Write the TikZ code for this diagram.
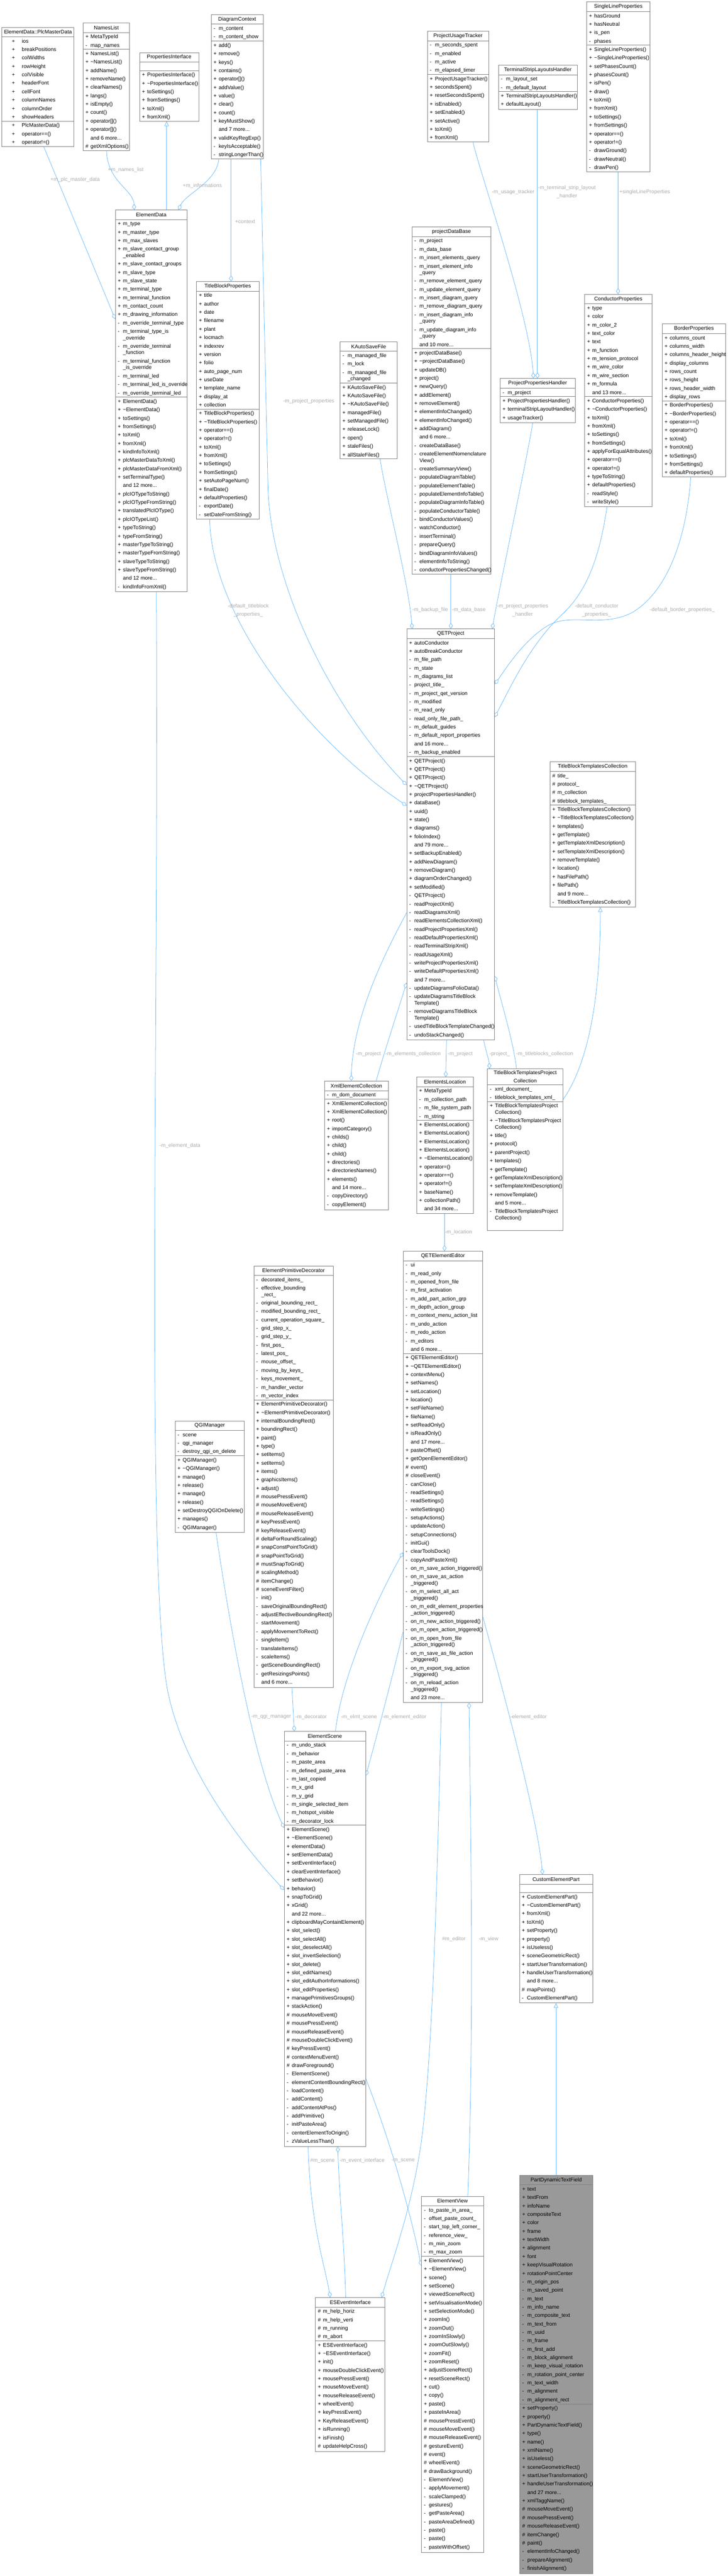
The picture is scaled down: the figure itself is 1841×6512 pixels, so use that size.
\documentclass[tikz,border=0pt]{standalone}
\usepackage{fontspec}
\setmainfont{Liberation Sans}
\usetikzlibrary{arrows.meta,fit}
\definecolor{eblue}{RGB}{99,184,255}
\definecolor{bgray}{RGB}{128,128,128}
\definecolor{lgray}{RGB}{170,170,170}
\definecolor{pfill}{RGB}{153,153,153}
\newcommand\cfnt{\fontsize{13.3}{16}\selectfont}
\newcommand\lfnt{\fontsize{13.3}{21}\selectfont}
\pgfdeclarelayer{bg}
\pgfsetlayers{bg,main}
\tikzset{
  cbox/.style={draw=bgray,line width=1pt,fill=white,inner sep=0pt},
  cline/.style={draw=bgray,line width=1pt},
  ctxt/.style={font=\cfnt,inner sep=0pt,anchor=base west},
  ctitle/.style={font=\lfnt,inner sep=0pt,align=center},
  elab/.style={font=\lfnt,text=lgray,inner sep=0pt,align=center},
  cedge/.style={draw=eblue,line width=1pt},
  agg/.style={cedge,-{Diamond[open,length=15pt,width=10pt,line width=1pt]}},
  inh/.style={cedge,-{Triangle[open,length=12pt,width=11pt,line width=1pt]}},
}
\def\soff{6}\def\toff{19}
\newcommand\csep{\draw[cline] (\cxL,\ry) -- (\cxR,\ry);}
\newcommand\esec{\pgfmathsetmacro\tmp{\ry+21.3}\xdef\ry{\tmp}}
\newcommand\cls[8][]{%
  \xdef\cxL{#3}\xdef\cxR{#4}%
  \node[cbox,#1,fit={(#3,#5) (#4,#6)}] (#2) {};
  \pgfmathsetmacro\tmp{#5+#7}\xdef\ry{\tmp}%
  \node[ctitle] at ({(#3+#4)/2},{#5+#7/2}) {#8};
  \csep}
\newcommand\rws[1]{%
  \foreach \xs/\xt in {#1}{%
    \if\xs c%
      \pgfmathsetmacro\yb{\ry+10.2}%
      \node[ctxt] at (\cxL+\toff,\yb) {\xt};%
      \pgfmathsetmacro\tmp{\ry+16.3}\xdef\ry{\tmp}%
    \else
      \pgfmathsetmacro\yb{\ry+15.35}%
      \if\xs n\else\node[ctxt] at (\cxL+\soff,\yb) {\xs};\fi
      \node[ctxt] at (\cxL+\toff,\yb) {\xt};%
      \pgfmathsetmacro\tmp{\ry+21.3}\xdef\ry{\tmp}%
    \fi}}
\begin{document}
\catcode`\_=12 \catcode`\~=12 \catcode`\#=12
\begin{tikzpicture}[x=1pt,y=-1pt]
\useasboundingbox (0,0) rectangle (1841,6512);
% ---------- top row
\def\soff{25}\def\toff{50}
\cls{plc}{5}{187}{69}{370}{24}{ElementData::PlcMasterData}
\rws{+/ios,+/breakPositions,+/colWidths,+/rowHeight,+/colVisible,+/headerFont,+/cellFont,+/columnNames,+/columnOrder,+/showHeaders}\csep
\rws{+/PlcMasterData(),+/operator==(),+/operator!=()}
\def\soff{6}\def\toff{19}
\cls{names}{210}{328}{58}{381}{24}{NamesList}
\rws{+/MetaTypeId,-/map_names}\csep
\rws{+/NamesList(),+/~NamesList(),+/addName(),+/removeName(),+/clearNames(),+/langs(),+/isEmpty(),+/count(),+/operator[](),+/operator[](),n/and 6 more{...},#/getXmlOptions()}
\cls{props}{353}{503}{133}{306}{24}{PropertiesInterface}
\esec\csep
\rws{+/PropertiesInterface(),+/~PropertiesInterface(),+/toSettings(),+/fromSettings(),+/toXml(),+/fromXml()}
\cls{dctx}{534}{666}{37}{402}{24}{DiagramContext}
\rws{-/m_content,-/m_content_show}\csep
\rws{+/add(),+/remove(),+/keys(),+/contains(),+/operator[](),+/addValue(),+/value(),+/clear(),+/count(),+/keyMustShow(),n/and 7 more{...},+/validKeyRegExp(),-/keyIsAcceptable(),-/stringLongerThan()}
\cls{put}{1081}{1236}{79}{359}{24}{ProjectUsageTracker}
\rws{-/m_seconds_spent,-/m_enabled,-/m_active,-/m_elapsed_timer}\csep
\rws{+/ProjectUsageTracker(),+/secondsSpent(),+/resetSecondsSpent(),+/isEnabled(),+/setEnabled(),+/setActive(),+/toXml(),+/fromXml()}
\cls{tslh}{1261}{1460}{165}{277}{24}{TerminalStripLayoutsHandler}
\rws{-/m_layout_set,-/m_default_layout}\csep
\rws{+/TerminalStripLayoutsHandler(),+/defaultLayout()}
\cls{slp}{1484}{1644}{5}{434}{24}{SingleLineProperties}
\rws{+/hasGround,+/hasNeutral,+/is_pen,-/phases}\csep
\rws{+/SingleLineProperties(),+/~SingleLineProperties(),+/setPhasesCount(),+/phasesCount(),+/isPen(),+/draw(),+/toXml(),+/fromXml(),+/toSettings(),+/fromSettings(),+/operator==(),+/operator!=(),-/drawGround(),-/drawNeutral(),-/drawPen()}
% ---------- second tier
\cls{edata}{292}{473}{531}{1496}{24}{ElementData}
\rws{+/m_type,+/m_master_type,+/m_max_slaves,+/m_slave_contact_group,c/_enabled,+/m_slave_contact_groups,+/m_slave_type,+/m_slave_state,+/m_terminal_type,+/m_terminal_function,+/m_contact_count,+/m_drawing_information,-/m_override_terminal_type,-/m_terminal_type_is,c/_override,-/m_override_terminal,c/_function,-/m_terminal_function,c/_is_override,-/m_terminal_led,-/m_terminal_led_is_override,-/m_override_terminal_led}\csep
\rws{+/ElementData(),+/~ElementData(),+/toSettings(),+/fromSettings(),+/toXml(),+/fromXml(),+/kindInfoToXml(),+/plcMasterDataToXml(),+/plcMasterDataFromXml(),+/setTerminalType(),n/and 12 more{...},+/plcIOTypeToString(),+/plcIOTypeFromString(),+/translatedPlcIOType(),+/plcIOTypeList(),+/typeToString(),+/typeFromString(),+/masterTypeToString(),+/masterTypeFromString(),+/slaveTypeToString(),+/slaveTypeFromString(),n/and 12 more{...},-/kindInfoFromXml()}
\cls{tbp}{497}{655}{712}{1312}{24}{TitleBlockProperties}
\rws{+/title,+/author,+/date,+/filename,+/plant,+/locmach,+/indexrev,+/version,+/folio,+/auto_page_num,+/useDate,+/template_name,+/display_at,+/collection}\csep
\rws{+/TitleBlockProperties(),+/~TitleBlockProperties(),+/operator==(),+/operator!=(),+/toXml(),+/fromXml(),+/toSettings(),+/fromSettings(),+/setAutoPageNum(),+/finalDate(),+/defaultProperties(),-/exportDate(),-/setDateFromString()}
\cls{kasf}{860}{1005}{864}{1160}{24}{KAutoSaveFile}
\rws{-/m_managed_file,-/m_lock,-/m_managed_file,c/_changed}\csep
\rws{+/KAutoSaveFile(),+/KAutoSaveFile(),+/~KAutoSaveFile(),+/managedFile(),+/setManagedFile(),+/releaseLock(),+/open(),+/staleFiles(),+/allStaleFiles()}
\cls{pdb}{1042}{1242}{574}{1452}{24}{projectDataBase}
\rws{-/m_project,-/m_data_base,-/m_insert_elements_query,-/m_insert_element_info,c/_query,-/m_remove_element_query,-/m_update_element_query,-/m_insert_diagram_query,-/m_remove_diagram_query,-/m_insert_diagram_info,c/_query,-/m_update_diagram_info,c/_query,n/and 10 more{...}}\csep
\rws{+/projectDataBase(),+/~projectDataBase(),+/updateDB(),+/project(),+/newQuery(),+/addElement(),+/removeElement(),+/elementInfoChanged(),+/elementInfoChanged(),+/addDiagram(),n/and 6 more{...},-/createDataBase(),-/createElementNomenclature,c/View(),-/createSummaryView(),-/populateDiagramTable(),-/populateElementTable(),-/populateElementInfoTable(),-/populateDiagramInfoTable(),-/populateConductorTable(),-/bindConductorValues(),-/watchConductor(),-/insertTerminal(),-/prepareQuery(),-/bindDiagramInfoValues(),-/elementInfoToString(),-/conductorPropertiesChanged()}
\cls{pph}{1265}{1455}{957}{1069}{24}{ProjectPropertiesHandler}
\rws{-/m_project}\csep
\rws{+/ProjectPropertiesHandler(),+/terminalStripLayoutHandler(),+/usageTracker()}
\cls{cp}{1479}{1649}{744}{1281}{24}{ConductorProperties}
\rws{+/type,+/color,+/m_color_2,+/text_color,+/text,+/m_function,+/m_tension_protocol,+/m_wire_color,+/m_wire_section,+/m_formula,n/and 13 more{...}}\csep
\rws{+/ConductorProperties(),+/~ConductorProperties(),+/toXml(),+/fromXml(),+/toSettings(),+/fromSettings(),+/applyForEqualAttributes(),+/operator==(),+/operator!=(),+/typeToString(),+/defaultProperties(),-/readStyle(),-/writeStyle()}
\cls{bp}{1675}{1836}{819}{1205}{24}{BorderProperties}
\rws{+/columns_count,+/columns_width,+/columns_header_height,+/display_columns,+/rows_count,+/rows_height,+/rows_header_width,+/display_rows}\csep
\rws{+/BorderProperties(),+/~BorderProperties(),+/operator==(),+/operator!=(),+/toXml(),+/fromXml(),+/toSettings(),+/fromSettings(),+/defaultProperties()}
% ---------- project tier
\cls{qetp}{1029}{1251}{1590}{2629}{24}{QETProject}
\rws{+/autoConductor,+/autoBreakConductor,-/m_file_path,-/m_state,-/m_diagrams_list,-/project_title_,-/m_project_qet_version,-/m_modified,-/m_read_only,-/read_only_file_path_,-/m_default_guides,-/m_default_report_properties,n/and 16 more{...},-/m_backup_enabled}\csep
\rws{+/QETProject(),+/QETProject(),+/QETProject(),+/~QETProject(),+/projectPropertiesHandler(),+/dataBase(),+/uuid(),+/state(),+/diagrams(),+/folioIndex(),n/and 79 more{...},+/setBackupEnabled(),+/addNewDiagram(),+/removeDiagram(),+/diagramOrderChanged(),+/setModified(),-/QETProject(),-/readProjectXml(),-/readDiagramsXml(),-/readElementsCollectionXml(),-/readProjectPropertiesXml(),-/readDefaultPropertiesXml(),-/readTerminalStripXml(),-/readUsageXml(),-/writeProjectPropertiesXml(),-/writeDefaultPropertiesXml(),n/and 7 more{...},-/updateDiagramsFolioData(),-/updateDiagramsTitleBlock,c/Template(),-/removeDiagramsTitleBlock,c/Template(),-/usedTitleBlockTemplateChanged(),-/undoStackChanged()}
\cls{tbtc}{1391}{1607}{1926}{2293}{24}{TitleBlockTemplatesCollection}
\rws{#/title_,#/protocol_,#/m_collection,#/titleblock_templates_}\csep
\rws{+/TitleBlockTemplatesCollection(),+/~TitleBlockTemplatesCollection(),+/templates(),+/getTemplate(),+/getTemplateXmlDescription(),+/setTemplateXmlDescription(),+/removeTemplate(),+/location(),+/hasFilePath(),+/filePath(),n/and 9 more{...},-/TitleBlockTemplatesCollection()}
\cls{tbtpc}{1233}{1424}{2702}{3111}{40}{TitleBlockTemplatesProject\\Collection}
\rws{-/xml_document_,-/titleblock_templates_xml_}\csep
\rws{+/TitleBlockTemplatesProject,c/Collection(),+/~TitleBlockTemplatesProject,c/Collection(),+/title(),+/protocol(),+/parentProject(),+/templates(),+/getTemplate(),+/getTemplateXmlDescription(),+/setTemplateXmlDescription(),+/removeTemplate(),n/and 5 more{...},-/TitleBlockTemplatesProject,c/Collection()}
\cls{xec}{821}{982}{2733}{3058}{24}{XmlElementCollection}
\rws{-/m_dom_document}\csep
\rws{+/XmlElementCollection(),+/XmlElementCollection(),+/root(),+/importCategory(),+/childs(),+/child(),+/child(),+/directories(),+/directoriesNames(),+/elements(),n/and 14 more{...},-/copyDirectory(),-/copyElement()}
\cls{eloc}{1054}{1197}{2723}{3068}{24}{ElementsLocation}
\rws{+/MetaTypeId,-/m_collection_path,-/m_file_system_path,-/m_string}\csep
\rws{+/ElementsLocation(),+/ElementsLocation(),+/ElementsLocation(),+/ElementsLocation(),+/~ElementsLocation(),+/operator=(),+/operator==(),+/operator!=(),+/baseName(),+/collectionPath(),n/and 34 more{...}}
% ---------- editor tier
\cls{qee}{1020}{1221}{3163}{4304}{24}{QETElementEditor}
\rws{-/ui,-/m_read_only,-/m_opened_from_file,-/m_first_activation,-/m_add_part_action_grp,-/m_depth_action_group,-/m_context_menu_action_list,-/m_undo_action,-/m_redo_action,-/m_editors,n/and 6 more{...}}\csep
\rws{+/QETElementEditor(),+/~QETElementEditor(),+/contextMenu(),+/setNames(),+/setLocation(),+/location(),+/setFileName(),+/fileName(),+/setReadOnly(),+/isReadOnly(),n/and 17 more{...},+/pasteOffset(),+/getOpenElementEditor(),#/event(),#/closeEvent(),-/canClose(),-/readSettings(),-/readSettings(),-/writeSettings(),-/setupActions(),-/updateAction(),-/setupConnections(),-/initGui(),-/clearToolsDock(),-/copyAndPasteXml(),-/on_m_save_action_triggered(),-/on_m_save_as_action,c/_triggered(),-/on_m_select_all_act,c/_triggered(),-/on_m_edit_element_properties,c/_action_triggered(),-/on_m_new_action_triggered(),-/on_m_open_action_triggered(),-/on_m_open_from_file,c/_action_triggered(),-/on_m_save_as_file_action,c/_triggered(),-/on_m_export_svg_action,c/_triggered(),-/on_m_reload_action,c/_triggered(),n/and 23 more{...}}
\cls{epd}{642}{843}{3200}{4266}{24}{ElementPrimitiveDecorator}
\rws{-/decorated_items_,-/effective_bounding,c/_rect_,-/original_bounding_rect_,-/modified_bounding_rect_,-/current_operation_square_,-/grid_step_x_,-/grid_step_y_,-/first_pos_,-/latest_pos_,-/mouse_offset_,-/moving_by_keys_,-/keys_movement_,-/m_handler_vector,-/m_vector_index}\csep
\rws{+/ElementPrimitiveDecorator(),+/~ElementPrimitiveDecorator(),+/internalBoundingRect(),+/boundingRect(),+/paint(),+/type(),+/setItems(),+/setItems(),+/items(),+/graphicsItems(),+/adjust(),#/mousePressEvent(),#/mouseMoveEvent(),#/mouseReleaseEvent(),#/keyPressEvent(),#/keyReleaseEvent(),#/deltaForRoundScaling(),#/snapConstPointToGrid(),#/snapPointToGrid(),#/mustSnapToGrid(),#/scalingMethod(),#/itemChange(),#/sceneEventFilter(),-/init(),-/saveOriginalBoundingRect(),-/adjustEffectiveBoundingRect(),-/startMovement(),-/applyMovementToRect(),-/singleItem(),-/translateItems(),-/scaleItems(),-/getSceneBoundingRect(),-/getResizingsPoints(),n/and 6 more{...}}
\cls{qgim}{443}{618}{3592}{3874}{24}{QGIManager}
\rws{-/scene,-/qgi_manager,-/destroy_qgi_on_delete}\csep
\rws{+/QGIManager(),+/~QGIManager(),+/manage(),+/release(),+/manage(),+/release(),+/setDestroyQGIOnDelete(),+/manages(),-/QGIManager()}
\cls{escene}{719}{925}{4377}{5426}{24}{ElementScene}
\rws{-/m_undo_stack,-/m_behavior,-/m_paste_area,-/m_defined_paste_area,-/m_last_copied,-/m_x_grid,-/m_y_grid,-/m_single_selected_item,-/m_hotspot_visible,-/m_decorator_lock}\csep
\rws{+/ElementScene(),+/~ElementScene(),+/elementData(),+/setElementData(),+/setEventInterface(),+/clearEventInterface(),+/setBehavior(),+/behavior(),+/snapToGrid(),+/xGrid(),n/and 22 more{...},+/clipboardMayContainElement(),+/slot_select(),+/slot_selectAll(),+/slot_deselectAll(),+/slot_invertSelection(),+/slot_delete(),+/slot_editNames(),+/slot_editAuthorInformations(),+/slot_editProperties(),+/managePrimitivesGroups(),+/stackAction(),#/mouseMoveEvent(),#/mousePressEvent(),#/mouseReleaseEvent(),#/mouseDoubleClickEvent(),#/keyPressEvent(),#/contextMenuEvent(),#/drawForeground(),-/ElementScene(),-/elementContentBoundingRect(),-/loadContent(),-/addContent(),-/addContentAtPos(),-/addPrimitive(),-/initPasteArea(),-/centerElementToOrigin(),-/zValueLessThan()}
\cls{cep}{1314}{1499}{4739}{5063}{24}{CustomElementPart}
\esec\csep
\rws{+/CustomElementPart(),+/~CustomElementPart(),+/fromXml(),+/toXml(),+/setProperty(),+/property(),+/isUseless(),+/sceneGeometricRect(),+/startUserTransformation(),+/handleUserTransformation(),n/and 8 more{...},#/mapPoints(),-/CustomElementPart()}
\cls{esei}{798}{974}{5808}{6197}{24}{ESEventInterface}
\rws{#/m_help_horiz,#/m_help_verti,#/m_running,#/m_abort}\csep
\rws{+/ESEventInterface(),+/~ESEventInterface(),+/init(),+/mouseDoubleClickEvent(),+/mousePressEvent(),+/mouseMoveEvent(),+/mouseReleaseEvent(),+/wheelEvent(),+/keyPressEvent(),+/KeyReleaseEvent(),+/isRunning(),+/isFinish(),#/updateHelpCross()}
\cls{eview}{1066}{1223}{5552}{6452}{24}{ElementView}
\rws{-/to_paste_in_area_,-/offset_paste_count_,-/start_top_left_corner_,-/reference_view_,-/m_min_zoom,-/m_max_zoom}\csep
\rws{+/ElementView(),+/~ElementView(),+/scene(),+/setScene(),+/viewedSceneRect(),+/setVisualisationMode(),+/setSelectionMode(),+/zoomIn(),+/zoomOut(),+/zoomInSlowly(),+/zoomOutSlowly(),+/zoomFit(),+/zoomReset(),+/adjustSceneRect(),+/resetSceneRect(),+/cut(),+/copy(),+/paste(),+/pasteInArea(),#/mousePressEvent(),#/mouseMoveEvent(),#/mouseReleaseEvent(),#/gestureEvent(),#/event(),#/wheelEvent(),#/drawBackground(),-/ElementView(),-/applyMovement(),-/scaleClamped(),-/gestures(),-/getPasteArea(),-/pasteAreaDefined(),-/paste(),-/paste(),-/pasteWithOffset()}
\cls[fill=pfill]{pdtf}{1315}{1499}{5499}{6506}{24}{PartDynamicTextField}
\rws{+/text,+/textFrom,+/infoName,+/compositeText,+/color,+/frame,+/textWidth,+/alignment,+/font,+/keepVisualRotation,+/rotationPointCenter,-/m_origin_pos,-/m_saved_point,-/m_text,-/m_info_name,-/m_composite_text,-/m_text_from,-/m_uuid,-/m_frame,-/m_first_add,-/m_block_alignment,-/m_keep_visual_rotation,-/m_rotation_point_center,-/m_text_width,-/m_alignment,-/m_alignment_rect}\csep
\rws{+/setProperty(),+/property(),+/PartDynamicTextField(),+/type(),+/name(),+/xmlName(),+/isUseless(),+/sceneGeometricRect(),+/startUserTransformation(),+/handleUserTransformation(),n/and 27 more{...},+/xmlTaggName(),#/mouseMoveEvent(),#/mousePressEvent(),#/mouseReleaseEvent(),#/itemChange(),#/paint(),-/elementInfoChanged(),-/prepareAlignment(),-/finishAlignment()}
% ---------- connectors
\begin{pgfonlayer}{bg}
\draw[agg] ([xshift=106pt]plc.south west) -- ([yshift=-276pt]edata.north west);
\draw[agg] ([xshift=60pt]names.south west) .. controls (272,460) and (338,480) .. ([xshift=48pt]edata.north west);
\draw[inh] ([xshift=130pt]edata.north west) -- ([xshift=69pt]props.south west);
\draw[agg] ([xshift=20pt]dctx.south west) .. controls (548,460) and (470,490) .. ([xshift=160pt]edata.north west);
\draw[agg] ([xshift=51pt]dctx.south west) -- ([xshift=88pt]tbp.north west);
\draw[agg] ([xshift=126pt]dctx.south west) .. controls (668,800) and (675,1100) .. (678,1240) .. controls (690,1500) and (850,1800) .. ([yshift=-395pt]qetp.north west);
\draw[agg] ([xshift=34pt]tbp.south west) .. controls (535,1560) and (780,1870) .. ([yshift=-447pt]qetp.north west);
\draw[agg] ([xshift=102pt]kasf.south west) .. controls (975,1250) and (1035,1480) .. ([xshift=14pt]qetp.north west);
\draw[agg] ([xshift=99pt]pdb.south west) -- ([xshift=112pt]qetp.north west);
\draw[agg] ([xshift=83pt]pph.south west) .. controls (1335,1150) and (1260,1500) .. ([xshift=217pt]qetp.north west);
\draw[agg] ([xshift=116pt]put.south west) .. controls (1215,440) and (1340,800) .. ([xshift=85pt]pph.north west);
\draw[agg] ([xshift=99pt]tslh.south west) -- ([xshift=95pt]pph.north west);
\draw[agg] ([xshift=80pt]slp.south west) -- ([xshift=85pt]cp.north west);
\draw[agg] ([xshift=57pt]cp.south west) .. controls (1515,1420) and (1480,1500) .. (1420,1555) .. controls (1340,1630) and (1290,1740) .. ([yshift=-223pt]qetp.north east);
\draw[agg] ([xshift=73pt]bp.south west) .. controls (1735,1380) and (1680,1500) .. (1600,1548) .. controls (1520,1590) and (1440,1545) .. (1380,1585) .. controls (1320,1625) and (1280,1690) .. ([yshift=-140pt]qetp.north east);
\draw[inh] ([yshift=-78pt]tbtpc.north east) .. controls (1480,2700) and (1519,2550) .. ([xshift=128pt]tbtc.south west);
\draw[agg] ([xshift=74pt]tbtpc.north west) .. controls (1300,2640) and (1270,2540) .. ([yshift=-878pt]qetp.north east);
\draw[agg] ([xshift=195pt]qetp.south west) .. controls (1230,2660) and (1237,2680) .. ([xshift=6pt]tbtpc.north west);
\draw[agg] ([yshift=-718pt]qetp.north west) .. controls (990,2380) and (892,2560) .. ([xshift=68pt]xec.north west);
\draw[agg] ([xshift=131pt]xec.north west) .. controls (975,2650) and (1005,2560) .. ([yshift=-895pt]qetp.north west);
\draw[agg] ([xshift=101pt]qetp.south west) -- ([xshift=74pt]eloc.north west);
\draw[agg] ([xshift=71pt]eloc.south west) -- ([xshift=105pt]qee.north west);
\draw[agg] ([yshift=-963pt]qee.north west) .. controls (990,4250) and (950,4400) .. ([yshift=-112pt]escene.north east);
\draw[agg] ([xshift=130pt]escene.north west) .. controls (865,4230) and (960,4030) .. ([yshift=-762pt]qee.north west);
\draw[agg] ([xshift=97pt]epd.south west) -- ([xshift=26pt]escene.north west);
\draw[agg] ([xshift=104pt]qgim.south west) .. controls (580,4100) and (640,4450) .. ([yshift=-244pt]escene.north west);
\draw[agg] ([xshift=104pt]edata.south west) .. controls (402,2600) and (370,3900) .. (420,4250) .. controls (450,4450) and (600,4650) .. ([yshift=-401pt]escene.north west);
\draw[agg] ([yshift=-878pt]escene.north east) .. controls (990,5420) and (1040,5600) .. ([yshift=-176pt]eview.north west);
\draw[agg] ([xshift=61pt]escene.south west) .. controls (785,5620) and (820,5720) .. ([xshift=38pt]esei.north west);
\draw[agg] ([xshift=77pt]esei.north west) .. controls (870,5650) and (858,5550) .. ([xshift=136pt]escene.south west);
\draw[agg] ([xshift=97pt]qee.south west) .. controls (1105,4800) and (1095,5150) .. (1070,5380) .. controls (1050,5560) and (990,5720) .. ([xshift=168pt]esei.north west);
\draw[agg] ([xshift=118pt]eview.north west) .. controls (1200,5100) and (1190,4600) .. ([xshift=167pt]qee.south west);
\draw[agg] ([yshift=-925pt]qee.north east) .. controls (1280,4300) and (1360,4600) .. ([xshift=59pt]cep.north west);
\draw[inh] ([xshift=92pt]pdtf.north west) -- ([xshift=93pt]cep.south west);
\end{pgfonlayer}
% ---------- connector labels
\node[elab] (l1) at (190,455) {+m_plc_master_data};
\node[elab] (l2) at (318,430) {+m_names_list};
\node[elab] (l2b) at (512,470) {+m_informations};
\node[elab] (l3) at (620,560) {+context};
\node[elab] (l4) at (781,1014) {-m_project_properties};
\node[elab] (l5) at (628,1543) {-default_titleblock\\_properties_};
\node[elab] (l6) at (1088,1542) {-m_backup_file};
\node[elab] (l7) at (1186,1542) {-m_data_base};
\node[elab] (l8) at (1322,1543) {-m_project_properties\\_handler};
\node[elab] (l9) at (1509,1543) {-default_conductor\\_properties_};
\node[elab] (l10) at (1726,1542) {-default_border_properties_};
\node[elab] (l11) at (1298,485) {-m_usage_tracker};
\node[elab] (l12) at (1434,485) {-m_terminal_strip_layout\\_handler};
\node[elab] (l13) at (1631,485) {+singleLineProperties};
\node[elab] (l14) at (932,2665) {-m_project};
\node[elab] (l15) at (1045,2665) {-m_elements_collection};
\node[elab] (l16) at (1164,2665) {-m_project};
\node[elab] (l17) at (1264,2665) {-project_};
\node[elab] (l18) at (1378,2665) {-m_titleblocks_collection};
\node[elab] (l19) at (1160,3115) {-m_location};
\node[elab] (l20) at (455,2896) {-m_element_data};
\node[elab] (l21) at (686,4340) {-m_qgi_manager};
\node[elab] (l22) at (787,4340) {-m_decorator};
\node[elab] (l23) at (908,4340) {-m_elmt_scene};
\node[elab] (l24) at (1023,4340) {-m_element_editor};
\node[elab] (l25) at (1337,4340) {-element_editor};
\node[elab] (l26) at (1148,4902) {#m_editor};
\node[elab] (l27) at (1236,4902) {-m_view};
\node[elab] (l28) at (816,5462) {#m_scene};
\node[elab] (l29) at (916,5462) {-m_event_interface};
\node[elab] (l30) at (1020,5462) {-m_scene};
\end{tikzpicture}
\end{document}
